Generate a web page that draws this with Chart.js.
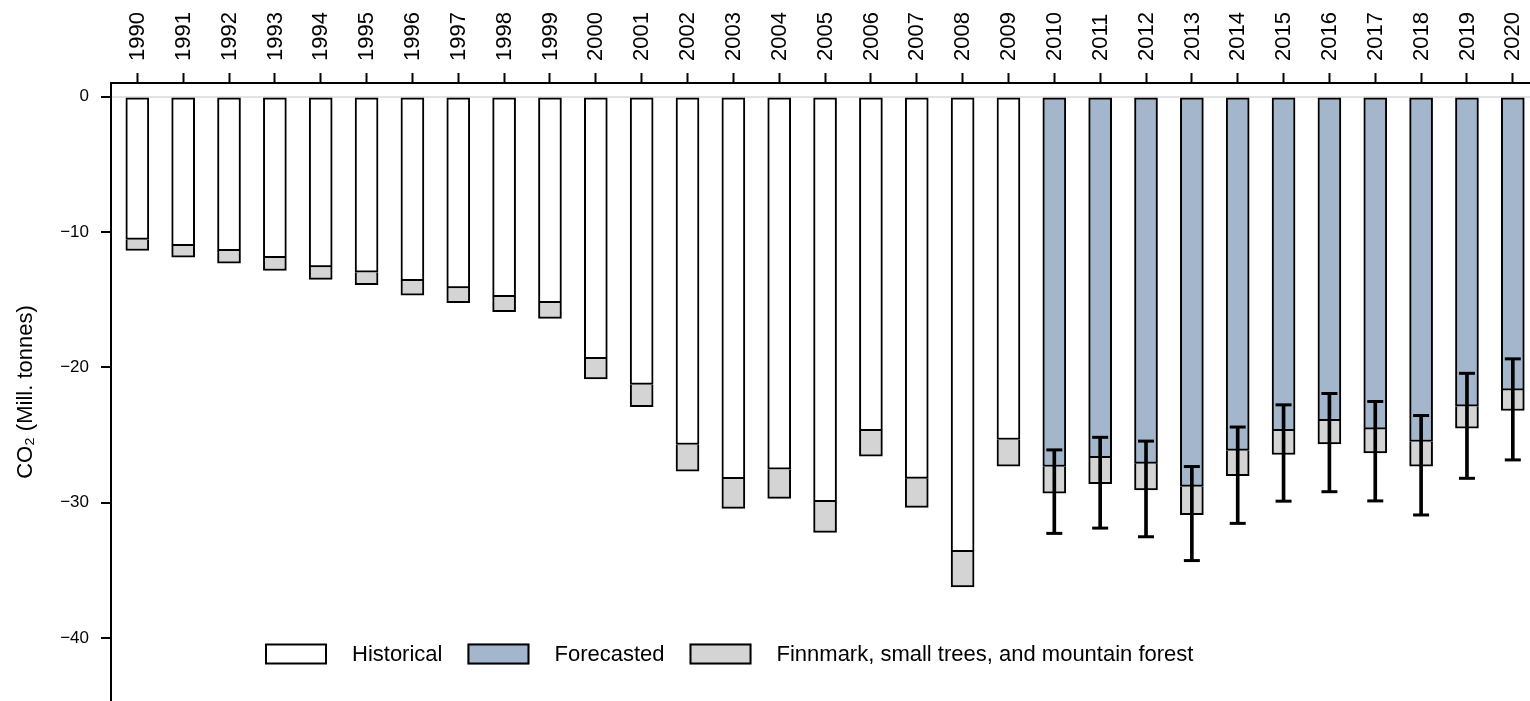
<!DOCTYPE html>
<html>
<head>
<meta charset="utf-8">
<script src="https://cdn.jsdelivr.net/npm/chart.js@4"></script>
<style>
  html, body { margin: 0; padding: 0; background: #ffffff; }
  #wrap { width: 1530px; height: 701px; position: relative; }
</style>
</head>
<body>
<div id="wrap"><canvas id="chart"></canvas></div>
<script>
// Net CO2 uptake in forest, million tonnes (negative = removal)
const years = [1990, 1991, 1992, 1993, 1994, 1995, 1996, 1997, 1998, 1999,
               2000, 2001, 2002, 2003, 2004, 2005, 2006, 2007, 2008, 2009,
               2010, 2011, 2012, 2013, 2014, 2015, 2016, 2017, 2018, 2019, 2020];

// Historical inventory, 1990-2009
const historicalYears = years.slice(0, 20);
const historical = [-10.54, -11.01, -11.38, -11.90, -12.57, -12.96, -13.60, -14.12, -14.77, -15.22,
                    -19.36, -21.26, -25.70, -28.22, -27.53, -29.93, -24.67, -28.20, -33.63, -25.33];

// Forecast, 2010-2020
const forecastYears = years.slice(20);
const forecasted = [-27.33, -26.67, -27.09, -28.80, -26.14, -24.68, -23.94, -24.56, -25.48, -22.87, -21.68];

// Finnmark, small trees and mountain forest, added below the main bar (all years)
const finnmark = [-0.82, -0.84, -0.92, -0.94, -0.93, -0.92, -1.07, -1.09, -1.11, -1.16,
                  -1.50, -1.65, -1.98, -2.20, -2.15, -2.27, -1.90, -2.15, -2.59, -1.97,
                  -1.97, -1.93, -1.96, -2.08, -1.86, -1.76, -1.71, -1.76, -1.83, -1.62, -1.51];

// Uncertainty range of the forecast total
const errHigh = [-26.10, -25.17, -25.45, -27.33, -24.41, -22.77, -21.93, -22.52, -23.56, -20.44, -19.37];
const errLow  = [-32.27, -31.88, -32.52, -34.28, -31.53, -29.89, -29.19, -29.87, -30.91, -28.20, -26.84];

const yTicks = [0, -10, -20, -30, -40];

const X_MIN = 1989.426, X_MAX = 2020.375;
const Y_MIN = -44.66, Y_MAX = 1.02;

const FONT = '"Liberation Sans", Arial, Helvetica, sans-serif';
Chart.defaults.font.family = FONT;
Chart.defaults.color = '#000000';

// Legend row drawn inside the plot area
const boxLegend = {
  id: 'boxLegend',
  afterDraw(chart) {
    const { ctx, chartArea } = chart;
    const items = chart.data.datasets.filter(d => d.inLegend);
    ctx.save();
    ctx.font = '22px ' + FONT;
    ctx.textBaseline = 'middle';
    ctx.textAlign = 'left';
    let x = chartArea.left + 154;
    const yMid = 654;
    items.forEach(d => {
      ctx.fillStyle = d.backgroundColor;
      ctx.fillRect(x, yMid - 10.5, 62, 21);
      ctx.lineWidth = 2;
      ctx.strokeStyle = '#000000';
      ctx.strokeRect(x + 1, yMid - 9.5, 60, 19);
      x += 62 + 25;
      ctx.fillStyle = '#000000';
      ctx.fillText(d.label, x, yMid + 1);
      x += ctx.measureText(d.label).width + 25;
    });
    ctx.restore();
  }
};

const barBase = {
  type: 'bar',
  borderColor: '#000000',
  borderWidth: 2,
  borderSkipped: false,
  barThickness: 23,
  grouped: false,
  xAxisID: 'x',
  yAxisID: 'y',
  order: 2,
  inLegend: true
};

const capBase = {
  type: 'scatter',
  pointStyle: 'line',
  radius: 8,
  hoverRadius: 8,
  borderWidth: 3,
  borderColor: '#000000',
  backgroundColor: '#000000',
  xAxisID: 'x2',
  yAxisID: 'y2',
  order: 0
};

new Chart(document.getElementById('chart'), {
  type: 'bar',
  data: {
    datasets: [
      { ...barBase, label: 'Historical', backgroundColor: '#ffffff',
        data: historical.map((v, i) => ({ x: historicalYears[i], y: v })) },
      { ...barBase, label: 'Forecasted', backgroundColor: '#a3b6cc',
        data: forecasted.map((v, i) => ({ x: forecastYears[i], y: v })) },
      { ...barBase, label: 'Finnmark, small trees, and mountain forest', backgroundColor: '#d4d4d4',
        borderWidth: { top: 0, right: 2, bottom: 2, left: 2 },
        data: finnmark.map((v, i) => ({ x: years[i], y: v })) },
      { type: 'bar', label: 'range', backgroundColor: '#000000', borderWidth: 0,
        barThickness: 3, grouped: false, xAxisID: 'x2', yAxisID: 'y2', order: 0,
        data: forecastYears.map((yr, i) => ({ x: yr, y: [errLow[i], errHigh[i]] })) },
      { ...capBase, label: 'low', data: forecastYears.map((yr, i) => ({ x: yr, y: errLow[i] })) },
      { ...capBase, label: 'high', data: forecastYears.map((yr, i) => ({ x: yr, y: errHigh[i] })) }
    ]
  },
  options: {
    responsive: true,
    maintainAspectRatio: false,
    devicePixelRatio: 1,
    animation: false,
    layout: { padding: 0, autoPadding: false },
    plugins: { legend: { display: false }, tooltip: { enabled: false } },
    scales: {
      x: {
        type: 'linear', position: 'top', min: X_MIN, max: X_MAX,
        stacked: true, offset: false,
        afterBuildTicks: s => { s.ticks = years.map(v => ({ value: v })); },
        afterFit: s => { s.height = 83; s.paddingLeft = 0; s.paddingRight = 0; },
        ticks: { autoSkip: false, minRotation: 90, maxRotation: 90, padding: 12, labelOffset: 27,
                 color: '#000000', font: { size: 22 }, callback: v => String(v) },
        grid: { drawOnChartArea: false, offset: false, tickLength: 10, tickWidth: 2, tickColor: '#000000' },
        border: { display: true, color: '#000000', width: 2 }
      },
      y: {
        type: 'linear', min: Y_MIN, max: Y_MAX, stacked: true,
        afterBuildTicks: s => { s.ticks = yTicks.map(v => ({ value: v })); },
        afterFit: s => { s.width = 111; s.paddingTop = 0; s.paddingBottom = 0; },
        ticks: { padding: 12, color: '#000000', font: { size: 17 },
                 callback: v => (v < 0 ? '\u2212' + Math.abs(v) : String(v)) },
        grid: {
          drawOnChartArea: true,
          color: c => (c.tick && c.tick.value === 0 ? '#e2e2e2' : 'rgba(0,0,0,0)'),
          lineWidth: 2, tickLength: 10, tickWidth: 2, tickColor: '#000000'
        },
        border: { display: true, color: '#000000', width: 2 },
        title: { display: true, text: 'CO\u2082 (Mill. tonnes)', color: '#000000',
                 font: { size: 22 }, padding: { top: 13, bottom: 0 } }
      },
      x2: { type: 'linear', display: false, min: X_MIN, max: X_MAX, offset: false },
      y2: { type: 'linear', display: false, min: Y_MIN, max: Y_MAX }
    }
  },
  plugins: [boxLegend]
});
</script>
</body>
</html>
